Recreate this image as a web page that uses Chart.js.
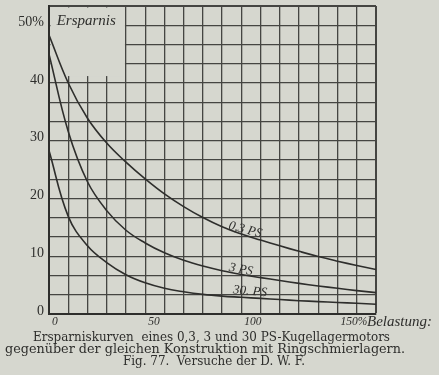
<!DOCTYPE html>
<html>
<head>
<meta charset="utf-8">
<script src="https://cdn.jsdelivr.net/npm/chart.js@4"></script>
<style>
  html, body { margin: 0; padding: 0; background: #d6d7cf; }
  canvas { display: block; }
</style>
</head>
<body>
<canvas id="chart" width="439" height="375"></canvas>
<script>
// Belastung in %
const loads = [0, 10, 20, 30, 40, 50, 60, 70, 80, 90, 100, 110, 120, 130, 140, 150, 160, 170];
// Ersparnis in % fuer die drei Motoren
const ps03 = [48.3, 40.0, 33.9, 29.6, 26.3, 23.4, 20.8, 18.6, 16.7, 15.1, 13.85, 12.8, 11.8, 10.85, 9.95, 9.15, 8.4, 7.7];
const ps3 = [45.0, 31.6, 22.9, 17.9, 14.5, 12.3, 10.6, 9.3, 8.3, 7.5, 6.85, 6.3, 5.8, 5.3, 4.85, 4.45, 4.05, 3.7];
const ps30 = [28.3, 16.9, 11.8, 8.9, 6.8, 5.4, 4.45, 3.85, 3.4, 3.1, 2.9, 2.7, 2.5, 2.3, 2.15, 2.0, 1.85, 1.7];
const curveNames = ['0,3 PS', '3 PS', '30. PS'];

const xTicks = [0, 50, 100, 150];
const xTickLabels = ['0', '50', '100', '150%'];
const yTicks = [0, 10, 20, 30, 40, 50];
const yTickLabels = ['0', '10', '20', '30', '40', '50%'];

const captionLines = [
    'Ersparniskurven  eines 0,3, 3 und 30 PS-Kugellagermotors',
    'gegenüber der gleichen Konstruktion mit Ringschmierlagern.',
    'Fig. 77.  Versuche der D. W. F.'
];

const paper = '#d6d7cf';
const ink = '#2e2e2c';

function toPoints(vals) {
    return loads.map((x, i) => ({ x: x, y: vals[i] }));
}

const isMajor = (v, list) => list.findIndex(t => Math.abs(t - v) < 0.01);

const extras = {
    id: 'extras',
    beforeDatasetsDraw(chart) {
        const { ctx } = chart;
        const xs = chart.scales.x, ys = chart.scales.y;
        // leeres Feld fuer die Beschriftung oben links
        ctx.save();
        ctx.fillStyle = paper;
        const x0 = xs.getPixelForValue(0) + 1.5;
        const x1 = xs.getPixelForValue(40) - 1;
        const y0 = ys.getPixelForValue(160 / 3) + 1.5;
        const y1 = ys.getPixelForValue(41.2);
        ctx.fillRect(x0, y0, x1 - x0, y1 - y0);
        ctx.restore();
    },
    afterDatasetsDraw(chart) {
        const { ctx } = chart;
        const xs = chart.scales.x, ys = chart.scales.y;
        ctx.save();
        ctx.fillStyle = ink;
        ctx.font = 'italic 15px "Liberation Serif"';
        ctx.textBaseline = 'middle';
        ctx.textAlign = 'left';
        ctx.fillText('Ersparnis', xs.getPixelForValue(4), ys.getPixelForValue(50.7));
        ctx.fillText('Belastung:', xs.right - 9, ys.bottom + 8);

        // Kurvenbeschriftungen
        const spots = [[102, 14.6, 0.26], [99.8, 7.7, 0.18], [104.5, 3.9, 0.09]];
        ctx.font = 'italic 13px "Liberation Serif"';
        ctx.textAlign = 'center';
        spots.forEach((s, i) => {
            ctx.save();
            ctx.translate(xs.getPixelForValue(s[0]), ys.getPixelForValue(s[1]));
            ctx.rotate(s[2]);
            ctx.fillText(curveNames[i], 0, 0);
            ctx.restore();
        });

        // Bildunterschrift
        ctx.font = '12.5px "DejaVu Serif"';
        ctx.textAlign = 'left';
        ctx.textBaseline = 'alphabetic';
        const boxes = [[33, 357, 340.7], [5, 400, 352.5], [123, 182, 364.5]];
        captionLines.forEach((line, i) => {
            const b = boxes[i];
            const w = ctx.measureText(line).width;
            ctx.save();
            ctx.translate(b[0], b[2]);
            ctx.scale(b[1] / w, 1);
            ctx.fillText(line, 0, 0);
            ctx.restore();
        });
        ctx.restore();
    }
};

const ctx = document.getElementById('chart').getContext('2d');
const lineStyle = {
    borderColor: ink,
    borderWidth: 1.6,
    pointRadius: 0,
    fill: false,
    tension: 0.4
};

new Chart(ctx, {
    type: 'line',
    data: {
        datasets: [
            Object.assign({ label: curveNames[0], data: toPoints(ps03) }, lineStyle),
            Object.assign({ label: curveNames[1], data: toPoints(ps3) }, lineStyle),
            Object.assign({ label: curveNames[2], data: toPoints(ps30) }, lineStyle)
        ]
    },
    options: {
        responsive: false,
        animation: false,
        layout: { padding: { top: 6, right: 63, left: 0, bottom: 0 } },
        plugins: {
            legend: { display: false },
            tooltip: { enabled: false }
        },
        scales: {
            x: {
                type: 'linear',
                min: 0,
                max: 170,
                afterBuildTicks(scale) {
                    scale.ticks = [];
                    for (let i = 0; i <= 17; i++) scale.ticks.push({ value: i * 10 });
                },
                afterFit(scale) {
                    scale.height = 61;
                    scale.paddingLeft = 0;
                    scale.paddingRight = 0;
                },
                grid: {
                    drawTicks: false,
                    color: '#454542',
                    lineWidth: c => (c.tick && c.tick.value === 170 ? 2 : 1.3)
                },
                border: { color: ink, width: 2 },
                ticks: {
                    align: 'start',
                    labelOffset: 3,
                    padding: 1,
                    maxRotation: 0,
                    autoSkip: false,
                    color: ink,
                    font: { family: 'Liberation Serif', style: 'italic', size: 11.5 },
                    callback(v) {
                        const k = isMajor(v, xTicks);
                        return k >= 0 ? xTickLabels[k] : '';
                    }
                }
            },
            y: {
                type: 'linear',
                min: 0,
                max: 160 / 3,
                afterBuildTicks(scale) {
                    scale.ticks = [];
                    for (let i = 0; i <= 16; i++) scale.ticks.push({ value: i * 10 / 3 });
                },
                afterFit(scale) {
                    scale.width = 49;
                    scale.paddingTop = 0;
                    scale.paddingBottom = 0;
                },
                grid: {
                    drawTicks: false,
                    color: '#454542',
                    lineWidth: c => (c.tick && Math.abs(c.tick.value - 160 / 3) < 0.01 ? 2 : 1.3)
                },
                border: { color: ink, width: 2 },
                ticks: {
                    padding: 5,
                    labelOffset: -3,
                    autoSkip: false,
                    color: ink,
                    font: { family: 'Liberation Serif', size: 14 },
                    callback(v) {
                        const k = isMajor(v, yTicks);
                        return k >= 0 ? yTickLabels[k] : '';
                    }
                }
            }
        }
    },
    plugins: [extras]
});
</script>
</body>
</html>
